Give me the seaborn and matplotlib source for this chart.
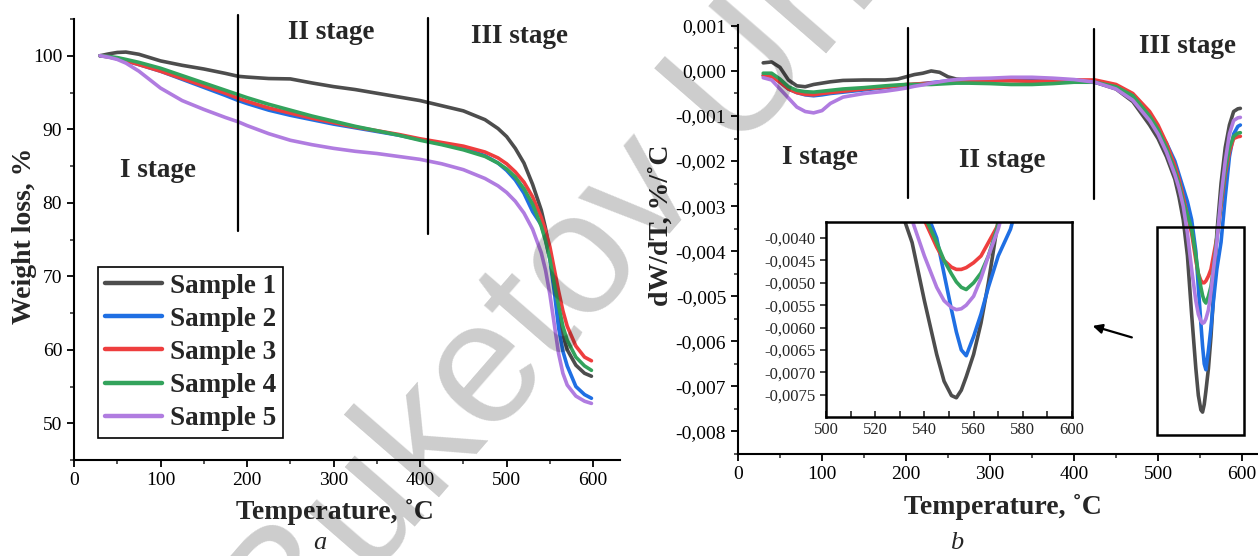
import numpy as np
import pandas as pd
import matplotlib
matplotlib.use("Agg")
import matplotlib.pyplot as plt
import seaborn as sns
from matplotlib.ticker import MultipleLocator, FuncFormatter
from matplotlib.patches import Rectangle

sns.set_style("ticks")
plt.rcParams['font.family'] = ['Liberation Serif', 'DejaVu Serif']

samples = ["Sample 1", "Sample 2", "Sample 3", "Sample 4", "Sample 5"]
colors = ["#4d4d4d", "#1f6fe3", "#ee3e3e", "#33a35c", "#b07ce0"]

# ---- TG data (weight loss, %) ----
t_tg = [30, 40, 50, 60, 75, 100, 125, 150, 175, 190, 200, 225, 250, 275, 300, 325, 350, 375,
        400, 425, 450, 475, 490, 500, 510, 520, 530, 540, 545, 550, 555, 560, 565, 570, 580, 590, 598]
tg_s1 = [100.0, 100.25, 100.45, 100.5, 100.2, 99.3, 98.7, 98.2, 97.6, 97.2, 97.1, 96.9, 96.85, 96.3, 95.8, 95.4, 94.9, 94.4,
         93.9, 93.2, 92.5, 91.3, 90.1, 89.0, 87.4, 85.4, 82.5, 79.0, 76.5, 73.0, 68.6, 64.8, 62.0, 60.0, 57.9, 56.8, 56.4]
tg_s2 = [100.0, 99.85, 99.6, 99.3, 98.8, 97.9, 96.8, 95.7, 94.6, 93.9, 93.5, 92.6, 91.9, 91.3, 90.7, 90.2, 89.7, 89.2,
         88.6, 88.0, 87.4, 86.4, 85.4, 84.4, 83.1, 81.3, 78.8, 77.0, 75.0, 72.3, 68.0, 63.0, 59.8, 57.8, 55.0, 53.9, 53.4]
tg_s3 = [100.0, 99.85, 99.6, 99.3, 98.8, 97.9, 96.9, 95.9, 94.9, 94.2, 93.8, 92.9, 92.2, 91.5, 90.9, 90.3, 89.8, 89.3,
         88.7, 88.2, 87.7, 86.9, 86.1, 85.3, 84.2, 82.8, 80.8, 78.0, 76.2, 74.0, 71.0, 68.0, 65.3, 63.2, 60.5, 59.0, 58.5]
tg_s4 = [100.0, 99.9, 99.75, 99.5, 99.1, 98.3, 97.3, 96.3, 95.3, 94.7, 94.3, 93.4, 92.6, 91.8, 91.1, 90.4, 89.8, 89.2,
         88.5, 87.9, 87.2, 86.3, 85.4, 84.6, 83.5, 81.9, 79.8, 76.8, 74.8, 72.3, 69.0, 66.0, 63.2, 61.3, 59.0, 57.8, 57.2]
tg_s5 = [100.0, 99.8, 99.5, 99.0, 97.9, 95.6, 93.9, 92.7, 91.6, 91.0, 90.5, 89.4, 88.5, 87.9, 87.4, 87.0, 86.7, 86.3,
         85.9, 85.3, 84.5, 83.3, 82.3, 81.4, 80.2, 78.6, 76.4, 73.2, 70.8, 67.5, 63.5, 59.5, 56.8, 55.2, 53.7, 53.0, 52.7]

# ---- DTG data (dW/dT, %/°C) ----
t_dtg = [30, 40, 50, 60, 70, 80, 90, 100, 110, 125, 150, 175, 190, 200, 210, 220, 230, 240, 250, 260, 275, 300,
         325, 350, 375, 400, 425, 450, 470, 490, 500, 510, 520, 525, 530, 535, 540, 545, 548, 551, 553, 555, 557,
         560, 563, 566, 570, 575, 580, 585, 590, 595, 598]
dtg_s1 = [0.00018, 0.0002, 0.00008, -0.0002, -0.00033, -0.00035, -0.0003, -0.00027, -0.00024, -0.00021, -0.0002,
          -0.0002, -0.00018, -0.00013, -0.00008, -0.00005, 0.0, -0.00003, -0.00013, -0.00018, -0.0002, -0.00019,
          -0.00018, -0.00018, -0.0002, -0.0002, -0.00025, -0.0004, -0.00068, -0.0012, -0.0015, -0.0019, -0.0024,
          -0.0028, -0.0033, -0.0041, -0.0054, -0.0066, -0.0072, -0.00752, -0.00757, -0.0074, -0.0071,
          -0.0066, -0.0059, -0.0050, -0.0036, -0.0025, -0.0017, -0.0012, -0.0009, -0.00084, -0.00083]
dtg_s2 = [-0.0001, -0.0001, -0.00025, -0.0004, -0.00048, -0.00053, -0.00055, -0.00053, -0.0005, -0.00047, -0.00042,
          -0.00037, -0.00034, -0.00032, -0.0003, -0.00028, -0.00026, -0.00024, -0.00022, -0.00021, -0.0002, -0.0002,
          -0.00019, -0.00018, -0.00019, -0.0002, -0.00025, -0.00038, -0.0006, -0.001, -0.0013, -0.0016, -0.002,
          -0.0023, -0.0026, -0.0029, -0.0033, -0.0040, -0.0048, -0.0056, -0.0061, -0.0065, -0.00663,
          -0.0062, -0.0057, -0.0051, -0.0044, -0.0038, -0.0028, -0.0019, -0.0014, -0.00123, -0.0012]
dtg_s3 = [-0.0001, -0.00012, -0.00025, -0.0004, -0.00048, -0.00052, -0.00053, -0.0005, -0.00048, -0.00045, -0.0004,
          -0.00036, -0.00033, -0.0003, -0.00029, -0.00028, -0.00027, -0.00026, -0.00025, -0.00024, -0.00023, -0.00022,
          -0.00022, -0.00023, -0.00022, -0.0002, -0.0002, -0.0003, -0.0005, -0.0009, -0.0012, -0.0016, -0.0021,
          -0.0024, -0.0028, -0.0032, -0.0036, -0.0042, -0.0045, -0.00465, -0.0047, -0.0047, -0.00466,
          -0.00455, -0.0044, -0.0041, -0.0037, -0.0030, -0.0023, -0.0018, -0.0015, -0.00146, -0.00145]
dtg_s4 = [-0.00005, -0.00005, -0.00018, -0.00035, -0.00043, -0.00046, -0.00047, -0.00045, -0.00043, -0.0004, -0.00037,
          -0.00033, -0.00031, -0.0003, -0.0003, -0.0003, -0.0003, -0.00029, -0.00028, -0.00027, -0.00027, -0.00028,
          -0.0003, -0.0003, -0.00028, -0.00025, -0.00025, -0.00035, -0.00055, -0.001, -0.0013, -0.0017, -0.0022,
          -0.0025, -0.0029, -0.0032, -0.0035, -0.0041, -0.0045, -0.0048, -0.00498, -0.0051, -0.00515,
          -0.0050, -0.00478, -0.0044, -0.0037, -0.0029, -0.0022, -0.0017, -0.00145, -0.00138, -0.00137]
dtg_s5 = [-0.00015, -0.0002, -0.0004, -0.0006, -0.0008, -0.0009, -0.00093, -0.00088, -0.00072, -0.00058, -0.0005,
          -0.00045, -0.00041, -0.00038, -0.00034, -0.00031, -0.00027, -0.00024, -0.00021, -0.00019, -0.00017, -0.00016,
          -0.00014, -0.00014, -0.00016, -0.00019, -0.00025, -0.0004, -0.00065, -0.0011, -0.0014, -0.0018, -0.0023,
          -0.0026, -0.003, -0.0036, -0.0044, -0.0051, -0.0054, -0.00555, -0.0056, -0.00558, -0.0055,
          -0.0053, -0.0049, -0.0044, -0.0038, -0.0028, -0.002, -0.0014, -0.0011, -0.00104, -0.00103]

tg_df = pd.concat([pd.DataFrame({"T": t_tg, "val": v, "sample": s})
                   for s, v in zip(samples, [tg_s1, tg_s2, tg_s3, tg_s4, tg_s5])], ignore_index=True)
dtg_df = pd.concat([pd.DataFrame({"T": t_dtg, "val": v, "sample": s})
                    for s, v in zip(samples, [dtg_s1, dtg_s2, dtg_s3, dtg_s4, dtg_s5])], ignore_index=True)
palette = dict(zip(samples, colors))

W, H = 1258, 556
fig = plt.figure(figsize=(W / 100, H / 100), dpi=100)

def px_axes(x0, x1, ytop, ybot):
    return fig.add_axes([x0 / W, 1 - ybot / H, (x1 - x0) / W, (ybot - ytop) / H])

tick_fs = 14
lab_fs = 20
stage_fs = 19.5
LW = 2.6

def style_main(ax):
    for s in ["top", "right"]:
        ax.spines[s].set_visible(False)
    for s in ["left", "bottom"]:
        ax.spines[s].set_linewidth(1.5)
        ax.spines[s].set_color("black")
    ax.tick_params(which="major", direction="out", length=5, width=1.3, labelsize=tick_fs, colors="black")
    ax.tick_params(which="minor", direction="out", length=3, width=1.1)

# ================= Left: TG =================
ax1 = px_axes(74, 620, 19, 460)
sns.lineplot(data=tg_df, x="T", y="val", hue="sample", palette=palette, estimator=None,
             sort=False, linewidth=LW, ax=ax1, legend=True)
ax1.set_xlim(0, 631)
ax1.set_ylim(45, 105)
ax1.xaxis.set_major_locator(MultipleLocator(100))
ax1.xaxis.set_minor_locator(MultipleLocator(50))
ax1.yaxis.set_minor_locator(MultipleLocator(5))
ax1.set_yticks([50, 60, 70, 80, 90, 100])
style_main(ax1)
ax1.set_xlabel("Temperature, ˚C", fontsize=lab_fs, fontweight="bold")
ax1.set_ylabel("Weight loss, %", fontsize=lab_fs, fontweight="bold")
ax1.xaxis.set_label_coords(0.478, -0.088)
ax1.yaxis.set_label_coords(-0.068, 0.508)

for xs, y0, y1 in [(190, 76.2, 105.6), (409, 75.8, 105.2)]:
    ax1.plot([xs, xs], [y0, y1], color="black", lw=1.6, clip_on=False, zorder=5)
ax1.text(97, 84.4, "I stage", ha="center", va="center", fontsize=stage_fs, fontweight="bold")
ax1.text(297, 103.1, "II stage", ha="center", va="center", fontsize=stage_fs, fontweight="bold")
ax1.text(515, 102.6, "III stage", ha="center", va="center", fontsize=stage_fs, fontweight="bold")

leg = ax1.legend(loc="lower left", bbox_to_anchor=(0.044, 0.05), borderaxespad=0,
                 prop={"weight": "bold", "size": 19.5, "family": "Liberation Serif"},
                 frameon=True, fancybox=False, framealpha=1, edgecolor="black",
                 handlelength=2.1, handletextpad=0.3, labelspacing=0.3, borderpad=0.25)
leg.get_frame().set_linewidth(1.2)
for h in leg.get_lines():
    h.set_linewidth(3.2)

# ================= Right: DTG =================
ax2 = px_axes(738, 1258, 25, 454)
sns.lineplot(data=dtg_df, x="T", y="val", hue="sample", palette=palette, estimator=None,
             sort=False, linewidth=LW, ax=ax2, legend=False)
ax2.set_xlim(0, 619)
ax2.set_ylim(-0.0085, 0.00102)
ax2.xaxis.set_major_locator(MultipleLocator(100))
ax2.xaxis.set_minor_locator(MultipleLocator(50))
ax2.set_yticks(np.arange(-0.008, 0.0011, 0.001))
ax2.yaxis.set_minor_locator(MultipleLocator(0.0005))
ax2.yaxis.set_major_formatter(FuncFormatter(lambda v, p: f"{v:.3f}".replace(".", ",").replace("-0,000", "0,000")))
style_main(ax2)
ax2.set_xlabel("Temperature, ˚C", fontsize=lab_fs, fontweight="bold")
ax2.set_ylabel("dW/dT, %/˚C", fontsize=lab_fs, fontweight="bold")
ax2.xaxis.set_label_coords(0.51, -0.093)
ax2.yaxis.set_label_coords(-0.124, 0.534)

for xs, y0, y1 in [(202, -0.00281, 0.00095), (424, -0.00284, 0.00093)]:
    ax2.plot([xs, xs], [y0, y1], color="black", lw=1.6, zorder=5)
ax2.text(98, -0.00192, "I stage", ha="center", va="center", fontsize=stage_fs, fontweight="bold")
ax2.text(315, -0.00198, "II stage", ha="center", va="center", fontsize=stage_fs, fontweight="bold")
ax2.text(535, 0.00054, "III stage", ha="center", va="center", fontsize=stage_fs, fontweight="bold")

# zoom rectangle and arrow
rect_x0, rect_x1 = 499, 602
rect_y0, rect_y1 = -0.00807, -0.00347
ax2.add_patch(Rectangle((rect_x0, rect_y0), rect_x1 - rect_x0, rect_y1 - rect_y0,
                        fill=False, edgecolor="black", lw=1.8, zorder=6))
ax2.annotate("", xy=(419, -0.00564), xytext=(472, -0.00593),
             arrowprops=dict(arrowstyle="-|>", color="black", lw=1.6, mutation_scale=14))

# inset
axi = px_axes(826, 1072, 222, 417)
sns.lineplot(data=dtg_df, x="T", y="val", hue="sample", palette=palette, estimator=None,
             sort=False, linewidth=LW, ax=axi, legend=False)
axi.set_xlim(500, 600)
axi.set_ylim(-0.0080, -0.00364)
axi.set_xticks(np.arange(500, 601, 20))
axi.xaxis.set_minor_locator(MultipleLocator(10))
axi.set_yticks(np.arange(-0.0075, -0.0039, 0.0005))
axi.yaxis.set_major_formatter(FuncFormatter(lambda v, p: f"{v:.4f}".replace(".", ",")))
axi.set_xlabel("")
axi.set_ylabel("")
for s in axi.spines.values():
    s.set_linewidth(1.8)
    s.set_color("black")
axi.tick_params(axis="x", which="both", direction="in", labelsize=12, length=4, width=1.2)
axi.tick_params(axis="y", which="both", direction="out", labelsize=12, length=4, width=1.2)

# panel captions
fig.text(320 / W, 1 - 543 / H, "a", ha="center", va="center", fontsize=19, style="italic")
fig.text(957 / W, 1 - 543 / H, "b", ha="center", va="center", fontsize=19, style="italic")

# watermark
fig.text(0.45, 0.49, "Buketov Uni", fontsize=125, family="Liberation Sans", color="black",
         alpha=0.2, rotation=49, ha="center", va="center", zorder=20)

fig.savefig("out.png", dpi=100)
